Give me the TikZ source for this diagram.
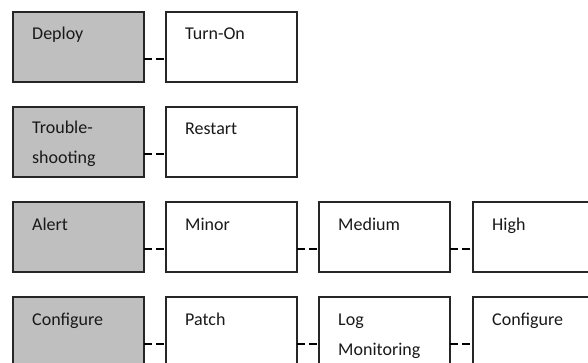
\documentclass[tikz,border=0pt]{standalone}
\usepackage{fontspec}
\setmainfont{Carlito}
\newcommand{\twolines}[2]{\begin{tabular}[t]{@{}l@{}}#1\\#2\end{tabular}}
\begin{document}
\begin{tikzpicture}[x=1pt,y=-1pt,
 box/.style={draw=black!85, line width=1.2pt, minimum width=131pt, minimum height=70pt, anchor=north west, inner sep=0pt, outer sep=0pt},
 cat/.style={box, fill=black!25},
 item/.style={box, fill=white},
 lbl/.style={anchor=base west, font=\fontsize{18}{30}\selectfont, inner sep=0pt, text=black!90},
 link/.style={draw=black, line width=2.6pt, dash pattern=on 8pt off 4pt}]
\useasboundingbox (0,0) rectangle (588,363);
\clip (0,0) rectangle (588,363);
% row 1
\node[cat]  (dep) at (13,12) {};
\node[item] (ton) at (166,12) {};
% row 2
\node[cat]  (trb) at (13,107) {};
\node[item] (rst) at (166,107) {};
% row 3
\node[cat]  (alr) at (13,202) {};
\node[item] (min) at (166,202) {};
\node[item] (med) at (319,202) {};
\node[item] (hig) at (473,202) {};
% row 4
\node[cat]  (cfg) at (13,297) {};
\node[item] (pat) at (166,297) {};
\node[item] (log) at (319,297) {};
\node[item] (cf2) at (473,297) {};
% labels
\node[lbl] (tdep) at ([xshift=19pt,yshift=-28pt]dep.north west) {Deploy};
\node[lbl] (tton) at ([xshift=19pt,yshift=-28pt]ton.north west) {Turn-On};
\node[lbl] (ttrb) at ([xshift=19pt,yshift=-27pt]trb.north west) {\twolines{Trouble-}{shooting}};
\node[lbl] (trst) at ([xshift=19pt,yshift=-28pt]rst.north west) {Restart};
\node[lbl] (talr) at ([xshift=19pt,yshift=-28pt]alr.north west) {Alert};
\node[lbl] (tmin) at ([xshift=19pt,yshift=-28pt]min.north west) {Minor};
\node[lbl] (tmed) at ([xshift=19pt,yshift=-28pt]med.north west) {Medium};
\node[lbl] (thig) at ([xshift=19pt,yshift=-28pt]hig.north west) {High};
\node[lbl] (tcfg) at ([xshift=19pt,yshift=-28pt]cfg.north west) {Configure};
\node[lbl] (tpat) at ([xshift=19pt,yshift=-28pt]pat.north west) {Patch};
\node[lbl] (tlog) at ([xshift=19pt,yshift=-28pt]log.north west) {\twolines{Log}{Monitoring}};
\node[lbl] (tcf2) at ([xshift=19pt,yshift=-28pt]cf2.north west) {Configure};
% connectors
\draw[link] ([yshift=-12pt]dep.east) -- ([yshift=-12pt]ton.west);
\draw[link] ([yshift=-12pt]trb.east) -- ([yshift=-12pt]rst.west);
\draw[link] ([yshift=-12pt]alr.east) -- ([yshift=-12pt]min.west);
\draw[link] ([yshift=-12pt]min.east) -- ([yshift=-12pt]med.west);
\draw[link] ([yshift=-12pt]med.east) -- ([yshift=-12pt]hig.west);
\draw[link] ([yshift=-12pt]cfg.east) -- ([yshift=-12pt]pat.west);
\draw[link] ([yshift=-12pt]pat.east) -- ([yshift=-12pt]log.west);
\draw[link] ([yshift=-12pt]log.east) -- ([yshift=-12pt]cf2.west);
\end{tikzpicture}
\end{document}
